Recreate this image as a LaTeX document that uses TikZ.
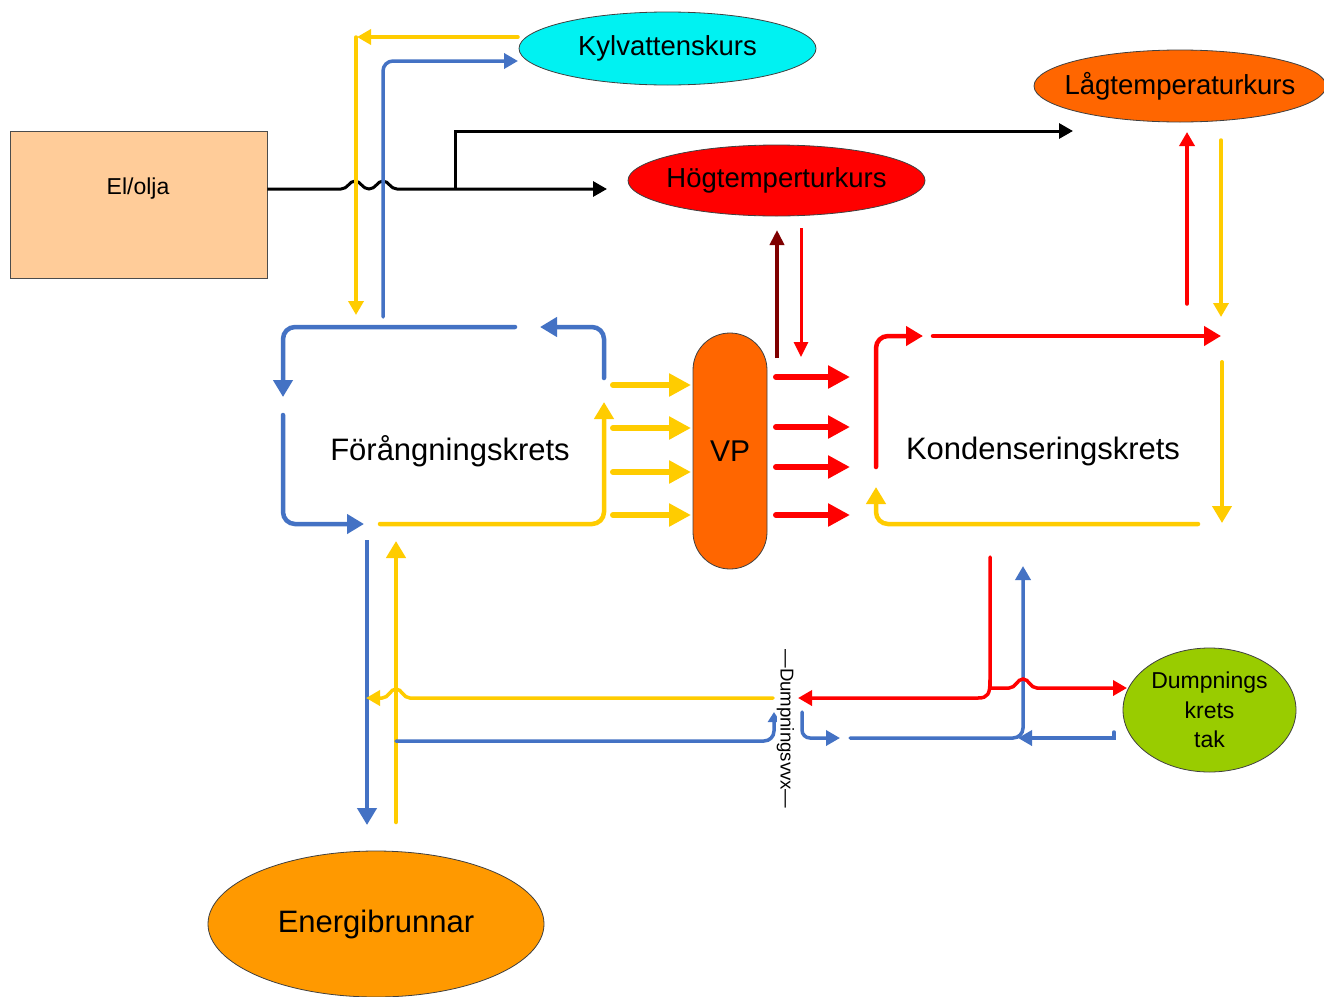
\documentclass[tikz,border=0pt]{standalone}
\usepackage{fontspec}
\setmainfont{Liberation Sans}
\usetikzlibrary{arrows.meta,shapes.geometric}

\definecolor{cblue}{HTML}{4472C4}
\definecolor{cyel}{HTML}{FFCC00}
\definecolor{cred}{HTML}{FF0000}
\definecolor{cdred}{HTML}{7F0000}
\definecolor{corange}{HTML}{FF6600}
\definecolor{cpeach}{HTML}{FFCC99}
\definecolor{cenergi}{HTML}{FF9900}
\definecolor{cgreen}{HTML}{99CC00}
\definecolor{ccyan}{HTML}{00F2F2}

\tikzset{
  fs/.style={font=\fontsize{#1}{#1}\selectfont},
  oval/.style={ellipse, draw=black!75, line width=0.8pt, inner sep=0pt},
  loopline/.style={line width=4.5pt, line cap=round, rounded corners=12pt},
  thinline/.style={line width=3.5pt, line cap=round, rounded corners=10pt},
  bigtip/.style={-{Triangle[length=22pt,width=22pt]}},
  midtip/.style={-{Triangle[length=17pt,width=19pt]}},
  smalltip/.style={-{Triangle[length=14pt,width=15pt]}},
  blk/.style={line width=3pt, draw=black},
  bl/.style={draw=cblue},
  ye/.style={draw=cyel},
  rd/.style={draw=cred},
}

\begin{document}
\begin{tikzpicture}[x=1pt,y=-1pt]
\useasboundingbox (0,0) rectangle (1324,996);
\fill[white] (0,0) rectangle (1324,996);

% ---- units ----
\node[draw=black!70, line width=0.8pt, fill=cpeach, minimum width=257pt, minimum height=147pt, inner sep=0pt] (elolja) at (138.5,204.5) {};
\node[fs=23] (eltext) at (138,189) {El/olja};

\node[oval, fill=ccyan, minimum width=297pt, minimum height=73pt, fs=27.5] (kyl) at (667.5,48.5) {\makebox[0pt]{Kylvattenskurs}};
\node[oval, fill=corange, minimum width=292pt, minimum height=72pt, fs=27.5] (lag) at (1180,86) {\makebox[0pt]{Lågtemperaturkurs}};
\node[oval, fill=cred, minimum width=297pt, minimum height=71pt, fs=27.5] (hog) at (776.5,180.5) {\makebox[0pt]{Högtemperturkurs}};
\node[draw=black!75, line width=0.8pt, fill=corange, rounded corners=37pt, minimum width=74pt, minimum height=236pt, inner sep=0pt, fs=30] (vp) at (730,451) {VP};
\node[oval, fill=cenergi, minimum width=336pt, minimum height=146pt, fs=31] (energi) at (376,924) {\makebox[0pt]{Energibrunnar}};
\node[oval, fill=cgreen, minimum width=173pt, minimum height=124pt, align=center, font=\fontsize{23}{29.5}\selectfont] (dump) at (1209.5,710) {Dumpnings\\krets\\tak};

\node[fs=31] (forang) at (450,451) {Förångningskrets};
\node[fs=31] (konden) at (1043,451) {Kondenseringskrets};

% ---- supply line from El/olja ----
\coordinate (hogin) at (607,189);
\coordinate (lagin) at (1073,131);
\draw[blk, -{Triangle[length=14pt,width=15pt]}] (elolja.east |- eltext) -- (341,189)
  .. controls (348,189) and (349,181) .. (355,181)
  .. controls (361,181) and (362,189) .. (369,189)
  .. controls (376,189) and (377,181) .. (383,181)
  .. controls (389,181) and (390,189) .. (397,189) -- (hogin);
\draw[blk, -{Triangle[length=14pt,width=15pt]}] (455,189) -- (455,131) -- (lagin);

% ---- cooling water circuit ----
\draw[ye, thinline, smalltip] (518,37) -- (357,37);
\draw[ye, thinline, smalltip] (356,37) -- (356,315);
\draw[bl, thinline, smalltip] (383,317) -- (383,61) -- (518,61);

% ---- evaporator circuit ----
\draw[bl, loopline, midtip] (515,327) -- (283,327) -- (283,397);
\draw[bl, loopline, midtip] (283,415) -- (283,524) -- (364,524);
\draw[bl, loopline, midtip] (604,378) -- (604,327) -- (540,327);
\draw[ye, loopline, midtip] (380,524) -- (604,524) -- (604,402);

% ---- heat pump in/out ----
\foreach \yy in {385,428,472,515}
  \draw[ye, line width=6pt, line cap=round, bigtip] (613,\yy) -- (691,\yy);
\foreach \yy in {377,427,467,515}
  \draw[rd, line width=6pt, line cap=round, bigtip] (776,\yy) -- (850,\yy);
\draw[draw=cdred, line width=4pt, -{Triangle[length=15pt,width=14pt]}] (777,358) -- (777,230);
\draw[rd, line width=3pt, -{Triangle[length=15pt,width=14pt]}] (801,228) -- (801,357);

% ---- condenser circuit ----
\draw[rd, loopline, midtip] (876,467) -- (876,336) -- (923,336);
\draw[rd, loopline, midtip] (933,336) -- (1221,336);
\draw[ye, line width=4pt, line cap=round, midtip] (1222,362) -- (1222,523);
\draw[ye, loopline, midtip] (1198,524) -- (876,524) -- (876,487);
\draw[rd, thinline, smalltip] (1187,304) -- (1187,132);
\draw[ye, thinline, smalltip] (1221,140) -- (1221,317);

% ---- ground wells ----
\draw[bl, line width=4.5pt, midtip] (367,540) -- (367,825);
\draw[ye, line width=4.5pt, line cap=round, midtip] (396,822) -- (396,541);
\draw[ye, line width=3.5pt, line cap=round, smalltip] (773,698) -- (410,698)
  .. controls (403,698) and (402,689) .. (396,689)
  .. controls (390,689) and (389,698) .. (382,698) -- (366,698);
\draw[bl, thinline, -{Triangle[length=10pt,width=12pt]}] (396,741) -- (774,741) -- (774,712);

% ---- dump circuit ----
\draw[bl, thinline, rounded corners=8pt, smalltip] (802,712) -- (802,738) -- (840,738);
\draw[bl, thinline, smalltip] (850,738) -- (1023,738) -- (1023,566);
\draw[bl, line width=3.5pt, line cap=round, smalltip] (1114,732) -- (1114,738) -- (1018,738);
\draw[rd, line width=3.5pt, line cap=round, smalltip] (990,557) -- (990,688) -- (1009,688)
  .. controls (1016,688) and (1017,679) .. (1023,679)
  .. controls (1029,679) and (1030,688) .. (1037,688) -- (1127,688);
\draw[rd, line width=3.5pt, line cap=round, smalltip] (990,680)
  .. controls (990,694) and (988,698) .. (978,698) -- (798,698);

\node[fill=white, inner sep=0pt, rotate=-90, fs=18.6] (vvx) at (785.5,729) {—Dumpningsvvx—};
\end{tikzpicture}
\end{document}
